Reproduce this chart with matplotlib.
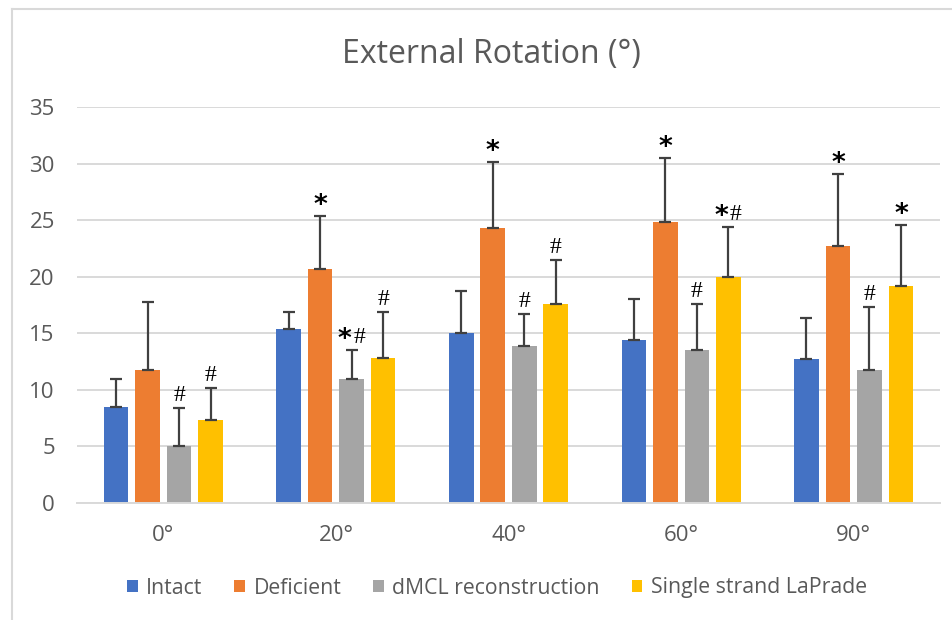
import numpy as np
import matplotlib
matplotlib.use("Agg")
import matplotlib.pyplot as plt
from matplotlib.lines import Line2D

categories = ["0°", "20°", "40°", "60°", "90°"]
series = ["Intact", "Deficient", "dMCL reconstruction", "Single strand LaPrade"]
intact = [8.5, 15.4, 15.0, 14.4, 12.7]
deficient = [11.8, 20.7, 24.3, 24.85, 22.7]
dmcl = [5.0, 10.95, 13.9, 13.5, 11.8]
laprade = [7.35, 12.8, 17.6, 20.0, 19.15]
intact_err = [2.5, 1.45, 3.75, 3.65, 3.65]
deficient_err = [6.0, 4.7, 5.9, 5.7, 6.4]
dmcl_err = [3.4, 2.55, 2.8, 4.1, 5.55]
laprade_err = [2.85, 4.1, 3.85, 4.4, 5.4]
# significance markers per series per category
intact_sig = ["", "", "", "", ""]
deficient_sig = ["", "*", "*", "*", "*"]
dmcl_sig = ["#", "*#", "#", "#", "#"]
laprade_sig = ["#", "#", "#", "*#", "*"]

values = [intact, deficient, dmcl, laprade]
errors = [intact_err, deficient_err, dmcl_err, laprade_err]
sigs = [intact_sig, deficient_sig, dmcl_sig, laprade_sig]
colors = ["#4472C4", "#ED7D31", "#A5A5A5", "#FFC000"]

TXT = "#595959"
FONT = "Open Sans"

fig = plt.figure(figsize=(9.53, 6.2), dpi=100)
ax = fig.add_axes([77/953, 1-503/620, (940-77)/953, (503-107.3)/620])

x = np.arange(len(categories))
step = 0.1825
width = 0.142


def star(p, top, dx):
    ax.annotate("*", (p, top), xytext=(dx, -3), textcoords="offset pixels",
                ha="center", va="bottom", fontsize=19, fontweight="bold",
                family="DejaVu Sans", color="black", zorder=4)


def hashm(p, top, dx):
    ax.annotate("#", (p, top), xytext=(dx, 7), textcoords="offset pixels",
                ha="center", va="baseline", fontsize=17,
                family="Liberation Serif", color="black", zorder=4)


for i, (vals, errs, col, name) in enumerate(zip(values, errors, colors, series)):
    pos = x + (i - 1.5) * step
    ax.bar(pos, vals, width=width, color=col, label=name, zorder=2)
    ax.errorbar(pos, vals, yerr=[np.zeros(len(vals)), errs], fmt="none",
                ecolor="#404040", elinewidth=1.6, capsize=4.5, capthick=1.6, zorder=3)
    for p, v, e, s in zip(pos, vals, errs, sigs[i]):
        top = v + e
        if s == "*":
            star(p, top, 0)
        elif s == "#":
            hashm(p, top, 0)
        elif s == "*#":
            star(p, top, -7)
            hashm(p, top, 7.5)

ax.set_xlim(-0.5, len(categories) - 0.5)
ax.set_ylim(0, 35)
ax.set_yticks(np.arange(0, 36, 5))
ax.set_xticks(x)
ax.set_xticklabels(categories)
ax.grid(axis="y", color="#D9D9D9", linewidth=1.4, zorder=0)
ax.set_axisbelow(True)
for s in ["top", "right", "left"]:
    ax.spines[s].set_visible(False)
ax.spines["bottom"].set_color("#D9D9D9")
ax.spines["bottom"].set_linewidth(1.4)
ax.tick_params(axis="both", length=0, labelsize=16, labelcolor=TXT, pad=16)
for lab in ax.get_xticklabels() + ax.get_yticklabels():
    lab.set_family(FONT)

fig.text(491/953, 1-55/620, "External Rotation (°)", ha="center", va="center",
         fontsize=23, color=TXT, family=FONT)

leg = fig.legend(loc="center", bbox_to_anchor=(497/953, 1-588/620), ncol=4,
                 frameon=False, handlelength=0.5, handleheight=0.5,
                 handletextpad=0.4, columnspacing=1.5,
                 prop={"family": FONT, "size": 15.3})
for t in leg.get_texts():
    t.set_color(TXT)

# chart-area border (top and left edges visible)
fig.add_artist(Line2D([12/953, 1], [1-9/620, 1-9/620], transform=fig.transFigure,
                      color="#D9D9D9", linewidth=1.5))
fig.add_artist(Line2D([12/953, 12/953], [0, 1-9/620], transform=fig.transFigure,
                      color="#D9D9D9", linewidth=1.5))

fig.savefig("out.png", dpi=100)
